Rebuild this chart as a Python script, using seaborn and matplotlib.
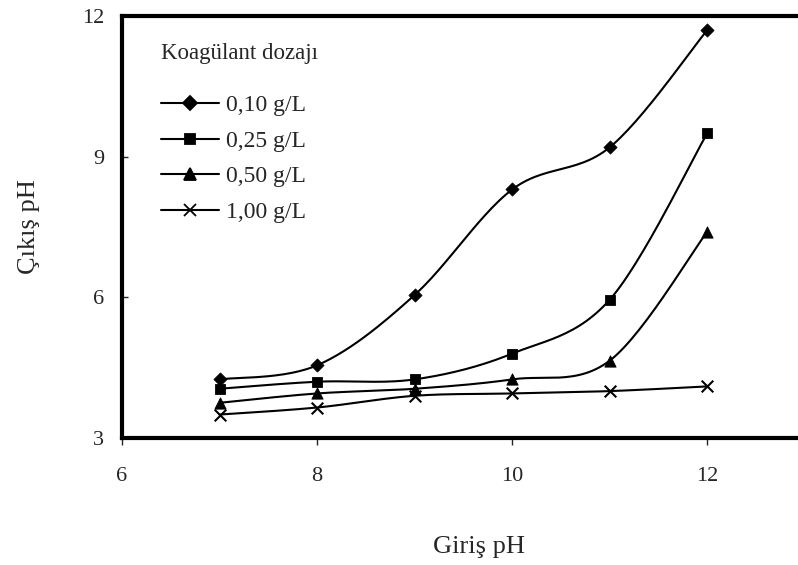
import numpy as np
import pandas as pd
import matplotlib
matplotlib.use("Agg")
import matplotlib.pyplot as plt
from matplotlib.lines import Line2D
import seaborn as sns

# -----------------------
# data
# -----------------------
giris_ph = [7, 8, 9, 10, 11, 12]
doz_labels = ["0,10 g/L", "0,25 g/L", "0,50 g/L", "1,00 g/L"]
cikis_010 = [4.25, 4.55, 6.05, 8.30, 9.20, 11.70]
cikis_025 = [4.05, 4.20, 4.25, 4.80, 5.95, 9.50]
cikis_050 = [3.75, 3.95, 4.05, 4.25, 4.65, 7.40]
cikis_100 = [3.50, 3.65, 3.90, 3.95, 4.00, 4.10]
markers = ["D", "s", "^", "x"]


def smooth_curve(x, y, n=30):
    """Excel-style smoothed line (Catmull-Rom Bezier), only for drawing."""
    x = np.asarray(x, float)
    y = np.asarray(y, float)
    px = np.concatenate([[x[0]], x, [x[-1]]])
    py = np.concatenate([[y[0]], y, [y[-1]]])
    xs, ys = [], []
    t = np.linspace(0, 1, n)
    for i in range(1, len(px) - 2):
        p0 = np.array([px[i], py[i]])
        p3 = np.array([px[i + 1], py[i + 1]])
        c1 = p0 + (p3 - np.array([px[i - 1], py[i - 1]])) / 6
        c2 = p3 - (np.array([px[i + 2], py[i + 2]]) - p0) / 6
        b = ((1 - t) ** 3)[:, None] * p0 + (3 * (1 - t) ** 2 * t)[:, None] * c1 \
            + (3 * (1 - t) * t ** 2)[:, None] * c2 + (t ** 3)[:, None] * p3
        xs.extend(b[:, 0])
        ys.extend(b[:, 1])
    return np.array(xs), np.array(ys)


sns.set_style("white")
plt.rcParams["font.family"] = ["Liberation Serif", "DejaVu Serif"]

fig = plt.figure(figsize=(7.98, 5.65), dpi=100)
ax = fig.add_axes([0.1529, 0.2248, 0.8471, 0.7469])

series = [cikis_010, cikis_025, cikis_050, cikis_100]
sizes = {"D": 45, "s": 55, "^": 65, "x": 70}
handles = []
for vals, lab, mk in zip(series, doz_labels, markers):
    sx, sy = smooth_curve(giris_ph, vals)
    sns.lineplot(x=sx, y=sy, ax=ax, color="black", linewidth=1.5, sort=False)
    df = pd.DataFrame({"x": giris_ph, "y": vals})
    if mk == "x":
        sns.scatterplot(data=df, x="x", y="y", ax=ax, marker="x", color="black",
                        s=sizes[mk], linewidth=1.5, zorder=5)
    else:
        sns.scatterplot(data=df, x="x", y="y", ax=ax, marker=mk, color="black",
                        s=sizes[mk], edgecolor="black", zorder=5)
    handles.append(Line2D([0], [0], color="black", linewidth=1.5, marker=mk,
                          markersize=np.sqrt(sizes[mk]), markeredgewidth=1.3,
                          markerfacecolor="black", markeredgecolor="black"))

ax.set_xlim(6, 12.93)
ax.set_ylim(3, 12)
ax.set_xticks([6, 8, 10, 12])
ax.set_yticks([3, 6, 9, 12])
ax.tick_params(axis="x", direction="out", length=5, width=1, labelsize=16, pad=16)
ax.tick_params(axis="y", direction="in", length=4, width=1, labelsize=16, pad=13)
ax.tick_params(left=True, bottom=True)

for side in ["left", "bottom", "top"]:
    ax.spines[side].set_linewidth(3)
    ax.spines[side].set_color("black")
ax.spines["right"].set_visible(False)

ax.set_xlabel("Giriş pH", fontsize=19)
ax.set_ylabel("Çıkış pH", fontsize=19)
ax.xaxis.set_label_coords(0.528, -0.233)
ax.yaxis.set_label_coords(-0.121, 0.5)

leg = ax.legend(handles, doz_labels, title="Koagülant dozajı", loc="upper left",
                bbox_to_anchor=(0.040, 0.964), frameon=False, fontsize=17,
                title_fontsize=16.5, handlelength=2.45, handletextpad=0.3,
                labelspacing=0.6, borderpad=0, alignment="left")
leg._legend_box.sep = 22

fig.savefig("out.png", dpi=100)
